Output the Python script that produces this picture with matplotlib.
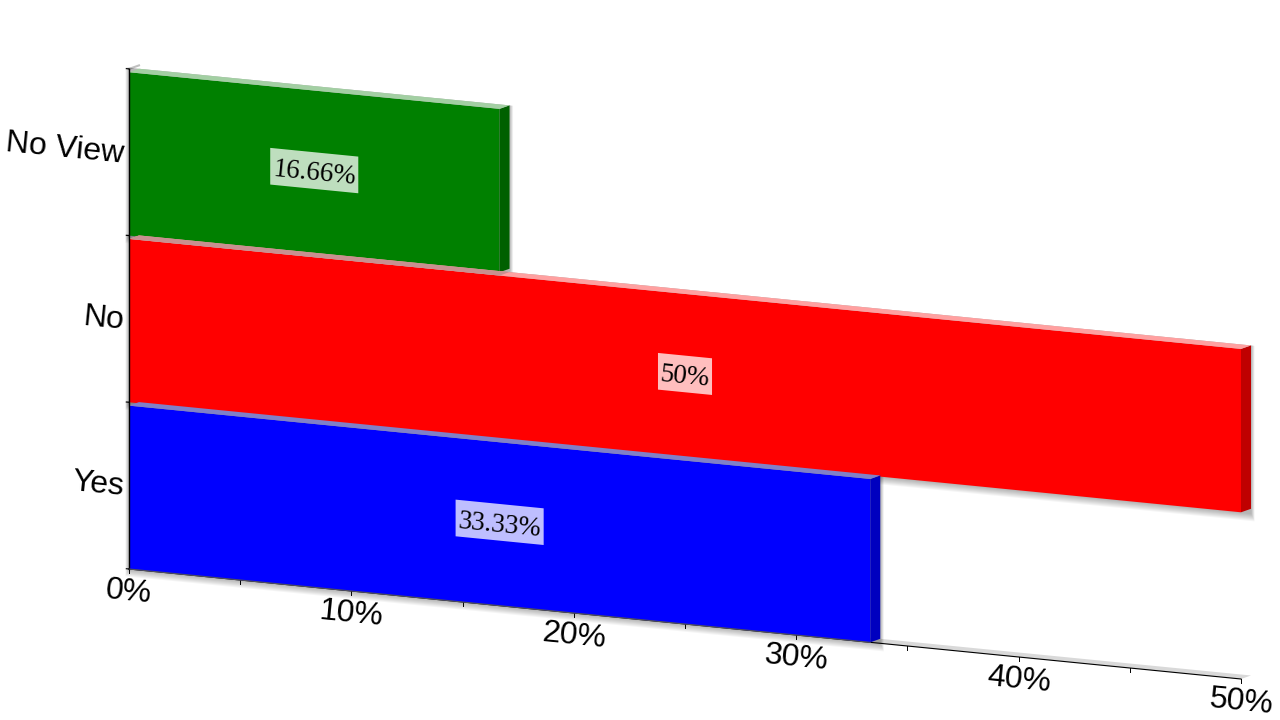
import matplotlib
matplotlib.use("Agg")
import matplotlib.pyplot as plt
from matplotlib.patches import Polygon, Rectangle
from matplotlib.transforms import Affine2D

# Chart values, bottom bar first
categories = ["Yes", "No", "No View"]
percentages = [33.33, 50, 16.66]
value_labels = ["33.33%", "50%", "16.66%"]
x_ticks = [0, 10, 20, 30, 40, 50]
x_minor_ticks = [5, 15, 25, 35, 45]
x_tick_labels = ["0%", "10%", "20%", "30%", "40%", "50%"]

# Colours per bar: front, side, top
front_colors = ["#0000ff", "#ff0000", "#008000"]
side_colors = ["#0000bf", "#bf0000", "#006000"]
top_colors = ["#8080c8", "#ffa0a0", "#a3cfa3"]
label_box_widths = [3.96, 2.43, 3.96]

plt.rcParams["font.family"] = ["Liberation Sans", "DejaVu Sans"]

fig = plt.figure(figsize=(12.8, 7.2), dpi=100, facecolor="white")
ax = fig.add_axes([0, 0, 1, 1])
ax.axis("off")

# The chart is drawn in a sheared plane (percent, category) -> display pixels
chart = Affine2D.from_values(22.24, -2.2, 0, 166.7, 129, 151)
tilt = -5.65
depth_x, depth_y = 0.45, 0.027
bar_height = 0.98
y_positions = range(len(categories))

# floor behind the bars and the top edge of the wall
ax.add_patch(Polygon([(0, 0), (50, 0), (50 + depth_x, depth_y), (depth_x, depth_y)],
                     facecolor="#d9d9d9", edgecolor="none", transform=chart, zorder=1))
ax.plot([0, depth_x], [3, 3 + depth_y], color="#c0c0c0", lw=1.5, transform=chart, zorder=1)

# soft shadows
for y, value in zip(y_positions, percentages):
    for grow in range(1, 9):
        ex, ey = grow * 0.02, grow * 0.0058
        ax.add_patch(Rectangle((-ex, y - ey), value + depth_x + 2 * ex, bar_height + depth_y + ey,
                               facecolor="black", edgecolor="none", alpha=0.04,
                               transform=chart, zorder=1.5))

# bars go from the top one down so that each top face lies over the bar behind it
for y in reversed(y_positions):
    value = percentages[y]
    top = y + bar_height
    z = 2 + (len(categories) - y)
    ax.barh(y, value, height=bar_height, left=0, align="edge", color=front_colors[y],
            transform=chart, zorder=z)
    ax.add_patch(Polygon([(value, y), (value, top), (value + depth_x, top + depth_y), (value + depth_x, y + depth_y)],
                         facecolor=side_colors[y], edgecolor="none", transform=chart, zorder=z))
    ax.add_patch(Polygon([(0, top), (value, top), (value + depth_x, top + depth_y), (depth_x, top + depth_y)],
                         facecolor=top_colors[y], edgecolor="none", transform=chart, zorder=z))

# the red top face is greyer where it runs over the green bar
ax.add_patch(Polygon([(0, 1 + bar_height), (percentages[2], 1 + bar_height),
                      (percentages[2] + depth_x, 1 + bar_height + depth_y), (depth_x, 1 + bar_height + depth_y)],
                     facecolor="#c89090", edgecolor="none", transform=chart, zorder=4.5))

# value labels with their sheared boxes
text_down = chart + Affine2D().translate(0, -3)
for y, value, text, box_w in zip(y_positions, percentages, value_labels, label_box_widths):
    xc, yc = value / 2, y + 0.5
    hw, hh = box_w / 2, 0.11
    ax.add_patch(Polygon([(xc - hw, yc - hh), (xc + hw, yc - hh), (xc + hw, yc + hh), (xc - hw, yc + hh)],
                         facecolor="white", edgecolor="none", alpha=0.75, transform=chart, zorder=8))
    ax.text(xc, yc, text, transform=text_down, ha="center", va="center", rotation=tilt,
            rotation_mode="anchor", family="Liberation Serif", fontsize=19.5, color="black", zorder=9)

# axes lines and ticks
ax.plot([0, 0], [0, 3], color="black", lw=1, transform=chart, zorder=7)
ax.plot([0, 50], [0, 0], color="black", lw=0.8, transform=chart, zorder=2)
ax.plot([0, percentages[0]], [0, 0], color="#505060", lw=0.8, transform=chart, zorder=7)
for y in range(4):
    ax.plot([-0.12, 0], [y, y], color="black", lw=0.8, transform=chart, zorder=7)
for x in x_ticks + x_minor_ticks:
    ax.plot([x, x], [0, -0.024], color="black", lw=0.7, transform=chart, zorder=2)

# tick labels
below = chart + Affine2D().translate(0, -23)
for x, text in zip(x_ticks, x_tick_labels):
    ax.text(x, 0, text, transform=below, ha="center", va="center", rotation=tilt,
            rotation_mode="anchor", fontsize=23, color="black", zorder=9)

left_of = chart + Affine2D().translate(-5, -2)
for y, text in zip(y_positions, categories):
    ax.text(0, y + 0.5, text, transform=left_of, ha="right", va="center", rotation=tilt,
            rotation_mode="anchor", fontsize=23, color="black", zorder=9)

fig.savefig("out.png", dpi=100, facecolor="white")
